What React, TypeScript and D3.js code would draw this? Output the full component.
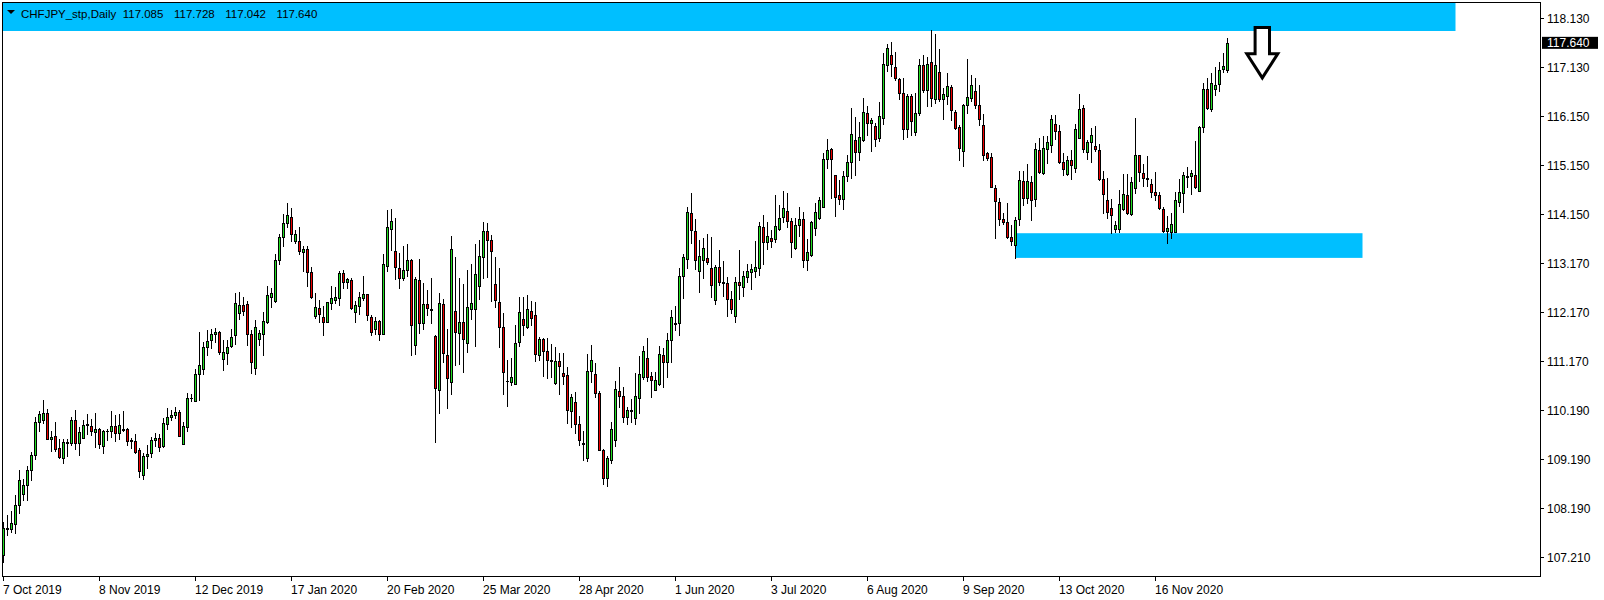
import React from "react";
import * as d3 from "d3";

const symbol = "CHFJPY_stp";
const timeframe = "Daily";

// daily OHLC, 7 Oct 2019 .. Dec 2020
const opens = [
  107.26,107.78,107.78,107.88,108.26,108.50,108.67,108.97,109.28,109.95,
  109.99,110.13,109.60,109.66,109.42,109.22,109.53,109.52,109.99,109.52,
  109.62,109.89,109.87,109.74,109.81,109.46,109.76,109.76,109.88,109.72,
  109.82,109.82,109.58,109.56,109.38,108.88,109.26,109.32,109.58,109.62,
  109.46,109.92,110.05,110.09,110.15,109.50,109.86,110.44,110.37,110.92,
  111.02,111.47,111.61,111.73,111.77,111.22,111.35,111.49,111.71,112.16,
  112.32,112.34,111.74,111.04,111.63,111.73,111.99,112.49,112.40,113.23,
  113.70,113.98,114.10,113.63,113.62,113.39,113.47,112.99,112.11,112.26,
  112.08,111.99,112.37,112.43,112.47,112.97,112.80,112.83,112.19,112.31,
  112.47,112.54,112.08,111.83,112.01,111.73,113.12,113.87,113.42,113.08,
  112.88,113.03,113.23,111.51,112.83,111.95,112.34,112.24,111.69,110.60,
  112.34,111.32,110.77,112.20,111.75,111.99,111.55,112.25,112.24,112.70,
  113.29,113.82,113.64,112.76,112.38,111.88,110.79,110.76,110.73,111.57,
  112.04,111.88,112.20,112.12,111.32,111.63,111.39,111.20,110.74,111.18,
  110.95,110.91,110.18,110.36,109.91,109.52,109.23,110.98,110.93,110.54,
  109.38,108.81,109.18,109.58,110.59,110.47,110.06,110.19,110.03,110.43,
  110.86,111.26,110.88,110.61,110.72,111.32,111.16,111.62,111.95,111.95,
  112.91,113.25,114.18,113.82,113.01,113.23,113.27,113.07,112.42,113.09,
  112.79,112.78,112.44,112.11,112.80,112.68,112.89,113.00,113.01,113.07,
  113.91,113.61,113.68,113.66,113.86,114.10,114.24,114.02,113.49,113.94,
  114.06,113.23,113.33,113.88,114.08,114.32,115.28,115.49,114.97,114.55,
  114.48,114.95,115.22,115.66,115.43,115.66,116.21,116.02,115.95,115.72,
  116.12,117.20,117.39,117.14,116.91,116.62,115.89,116.56,115.84,116.21,
  117.19,116.68,117.25,116.50,117.05,116.51,116.57,116.74,116.23,115.93,
  115.45,116.37,116.53,116.66,116.38,115.97,115.41,115.32,114.69,114.41,
  114.07,114.01,113.71,113.55,114.06,114.84,114.49,114.81,114.47,115.46,
  115.00,115.48,115.56,115.99,115.85,115.22,114.99,115.26,115.10,115.72,
  116.31,115.42,115.62,115.54,115.46,114.87,114.45,114.30,113.87,113.87,
  114.27,114.55,114.16,114.69,115.36,115.00,114.89,114.77,114.61,114.55,
  114.28,113.83,113.80,113.81,114.41,114.59,114.93,114.93,114.97,114.63,
  115.93,116.70,116.29,116.70,116.80,117.10,117.085,
];
const highs = [
  107.92,108.07,108.15,108.47,108.97,108.80,109.07,109.34,110.05,110.18,
  110.40,110.22,109.77,109.95,109.60,109.60,109.61,110.05,110.20,109.86,
  109.99,110.11,110.02,110.13,109.83,109.79,109.82,110.18,110.10,110.11,
  110.18,109.83,109.63,109.70,109.43,109.32,109.49,109.64,109.72,109.70,
  110.03,110.24,110.20,110.26,110.20,109.95,110.55,110.53,111.02,111.78,
  111.57,111.82,111.84,111.85,111.79,111.61,111.62,111.83,112.57,112.59,
  112.49,112.41,111.81,112.02,111.82,112.18,112.71,112.67,113.35,113.77,
  114.17,114.39,114.29,113.85,113.91,113.52,113.52,113.10,112.56,112.42,
  112.30,112.39,112.70,112.69,113.02,113.03,112.87,112.87,112.41,112.59,
  112.91,112.54,112.12,112.08,112.03,113.35,114.25,114.28,114.08,113.37,
  113.52,113.57,113.25,112.90,113.25,112.78,112.63,112.87,111.72,112.56,
  112.45,111.83,113.72,113.30,112.87,112.76,113.03,113.15,113.57,113.64,
  114.00,113.99,113.74,113.29,113.07,112.16,111.21,111.26,111.91,112.48,
  112.48,112.53,112.41,112.39,111.67,111.65,111.65,111.53,111.47,111.35,
  111.35,111.07,110.51,110.57,110.07,109.77,111.33,111.51,111.14,110.58,
  109.40,109.26,109.96,110.78,111.07,110.66,110.26,110.42,110.94,111.29,
  111.49,111.65,110.97,110.97,111.49,111.45,111.75,112.22,112.30,113.07,
  113.36,114.32,114.59,114.07,113.64,113.68,113.76,113.70,113.14,113.44,
  113.22,112.89,112.60,112.89,113.44,113.01,113.15,113.15,113.62,114.01,
  114.15,114.01,113.84,114.55,114.35,114.64,114.59,114.08,114.08,114.32,
  114.22,113.66,114.02,114.39,114.51,115.40,115.69,115.51,114.97,114.85,
  115.04,115.37,116.31,116.14,116.03,116.52,116.36,116.11,116.02,116.45,
  117.44,117.62,117.66,117.46,116.92,116.93,116.60,116.60,116.62,117.31,
  117.39,117.35,117.90,117.82,117.52,116.72,117.02,116.79,116.27,115.97,
  116.40,117.32,116.99,116.92,116.79,116.19,115.43,115.40,114.76,114.49,
  114.18,114.39,113.95,114.11,115.05,115.05,115.19,114.93,115.60,115.71,
  115.75,115.75,116.17,116.17,115.97,115.40,115.35,115.47,115.99,116.60,
  116.37,115.66,115.91,115.95,115.58,115.04,114.89,114.47,114.02,114.66,
  114.98,114.98,114.91,116.11,115.36,115.19,115.34,114.87,115.02,114.62,
  114.32,114.12,114.20,114.61,114.87,115.03,115.12,115.07,115.65,115.95,
  116.83,116.93,117.02,117.16,117.25,117.43,117.728,
];
const lows = [
  107.11,107.66,107.73,107.71,108.10,108.37,108.38,108.78,109.21,109.78,
  109.93,109.60,109.36,109.36,109.23,109.13,109.27,109.49,109.40,109.29,
  109.62,109.70,109.68,109.45,109.43,109.33,109.59,109.64,109.57,109.60,
  109.78,109.49,109.43,109.32,108.84,108.80,109.01,109.25,109.47,109.37,
  109.45,109.82,110.00,110.04,109.66,109.50,109.76,110.38,110.37,110.39,
  110.92,111.31,111.45,111.57,111.33,111.01,111.12,111.48,111.54,112.05,
  112.12,111.51,110.94,110.92,111.51,111.32,111.95,112.29,112.38,113.15,
  113.53,113.91,113.63,113.58,113.35,113.01,112.70,112.46,112.06,111.99,
  111.72,111.98,112.24,112.36,112.33,112.66,112.66,112.25,111.97,112.15,
  112.43,112.03,111.72,111.74,111.62,111.73,113.02,113.43,112.86,112.67,
  112.83,112.92,111.32,111.34,111.76,111.84,112.12,111.95,109.55,110.14,
  111.16,110.24,110.53,111.11,111.12,110.97,111.38,112.05,111.50,112.45,
  112.87,112.89,112.41,112.29,111.48,110.53,110.28,110.70,110.73,111.49,
  111.72,111.86,111.92,111.18,111.20,110.89,110.85,110.87,110.72,110.51,
  110.72,109.94,109.86,109.72,109.48,109.19,109.17,110.76,110.45,109.38,
  108.70,108.66,109.13,109.47,110.26,109.95,109.92,109.96,109.92,110.13,
  110.82,110.78,110.45,110.60,110.70,110.67,110.86,111.17,111.82,111.72,
  112.47,113.08,113.59,113.05,112.59,112.87,113.16,112.48,112.35,112.72,
  112.51,112.11,112.16,111.99,112.44,112.50,112.79,112.65,112.90,112.93,
  113.16,113.47,113.51,113.61,113.84,114.00,113.90,113.30,113.47,113.72,
  113.09,113.03,113.31,113.74,114.07,114.32,115.10,114.50,114.12,114.37,
  114.28,114.83,114.89,114.96,115.26,115.64,115.77,115.45,115.55,115.64,
  116.00,117.06,116.97,116.88,116.50,115.70,115.74,115.77,115.77,116.18,
  116.65,116.36,116.35,116.43,116.46,116.10,116.39,116.07,115.89,115.26,
  115.15,116.21,116.46,116.31,115.97,115.27,115.26,114.71,113.69,113.95,
  113.96,113.68,113.54,113.27,113.95,114.35,114.39,114.04,114.34,115.00,
  114.98,115.21,115.43,115.69,115.21,114.97,114.97,114.87,115.03,115.72,
  115.43,115.28,115.23,115.45,114.86,114.18,114.08,113.78,113.80,113.81,
  114.25,114.16,114.14,114.59,114.83,114.74,114.74,114.51,114.45,114.28,
  113.80,113.58,113.68,113.80,114.33,114.22,114.71,114.57,114.69,114.63,
  115.84,116.29,116.25,116.58,116.67,117.04,117.042,
];
const closes = [
  107.80,107.81,107.90,108.26,108.77,108.68,108.97,109.28,109.95,110.11,
  110.13,109.60,109.65,109.41,109.25,109.54,109.54,109.99,109.52,109.74,
  109.90,109.92,109.76,109.81,109.51,109.76,109.77,109.88,109.72,109.90,
  109.80,109.57,109.57,109.35,108.95,109.26,109.30,109.58,109.62,109.44,
  109.93,110.05,110.09,110.16,109.66,109.87,110.44,110.43,110.92,111.10,
  111.47,111.59,111.73,111.77,111.38,111.38,111.48,111.68,112.36,112.32,
  112.20,111.74,111.16,111.88,111.75,112.01,112.52,112.56,113.23,113.70,
  113.98,114.14,113.76,113.76,113.41,113.47,112.99,112.48,112.28,112.15,
  111.99,112.38,112.46,112.49,112.97,112.80,112.85,112.27,112.32,112.49,
  112.54,112.12,111.77,112.01,111.73,113.16,113.91,114.03,113.09,112.87,
  113.03,113.23,111.91,112.85,111.95,112.34,112.26,112.22,110.64,112.36,
  111.36,110.84,113.47,111.77,111.99,111.63,112.28,112.36,112.95,113.31,
  113.82,113.64,113.41,112.42,111.87,110.96,110.78,110.86,111.55,112.18,
  111.91,112.24,112.07,111.34,111.63,111.39,111.20,111.19,111.18,111.08,
  110.89,110.20,110.45,109.91,109.58,109.51,110.98,111.20,110.54,109.38,
  108.81,109.22,109.82,110.62,110.47,110.06,110.19,110.18,110.47,110.92,
  111.39,110.87,110.80,110.80,111.34,111.16,111.62,112.09,111.94,112.91,
  113.29,114.22,113.84,113.23,113.31,113.49,113.19,112.74,113.09,112.80,
  112.78,112.44,112.24,112.80,112.72,112.91,113.01,113.05,113.09,113.92,
  113.61,113.72,113.63,113.92,114.08,114.30,114.02,113.60,113.94,114.06,
  113.23,113.39,114.00,114.22,114.45,115.28,115.46,115.28,114.52,114.48,
  114.95,115.22,115.79,115.43,115.74,116.23,116.02,116.07,115.70,116.15,
  117.22,117.53,117.22,116.92,116.63,115.90,116.56,116.06,116.21,117.20,
  116.68,117.22,116.53,117.19,116.51,116.60,116.76,116.27,115.92,115.51,
  116.38,116.54,116.78,116.37,116.10,115.37,115.31,114.72,114.43,114.06,
  114.00,113.71,113.63,114.04,114.86,114.50,114.84,114.45,115.48,115.03,
  115.50,115.62,116.09,115.85,115.23,115.08,115.26,115.16,115.89,116.29,
  115.48,115.62,115.77,115.48,114.87,114.57,114.22,114.14,113.94,114.37,
  114.57,114.18,114.81,115.36,115.03,114.89,114.87,114.61,114.55,114.30,
  113.83,113.88,113.96,114.45,114.61,114.97,114.91,115.00,114.72,115.93,
  116.70,116.31,116.82,116.78,117.08,117.18,117.640,
];

const priceTicks = [118.13, 117.13, 116.15, 115.15, 114.15, 113.17, 112.17, 111.17, 110.19, 109.19, 108.19, 107.21];

const dateLabels = [
  "7 Oct 2019", "8 Nov 2019", "12 Dec 2019", "17 Jan 2020", "20 Feb 2020", "25 Mar 2020",
  "28 Apr 2020", "1 Jun 2020", "3 Jul 2020", "6 Aug 2020", "9 Sep 2020", "13 Oct 2020", "16 Nov 2020",
];
const dateBars = [0, 24, 48, 72, 96, 120, 144, 168, 192, 216, 240, 264, 288];

// rectangles drawn on the chart (bar index range + price range)
const zones = [
  { from: -2, to: 363, top: 118.6, bottom: 117.88 },
  { from: 253, to: 339.75, top: 113.78, bottom: 113.28 },
];
// hollow down arrow
const arrow = { bar: 314.7, top: 117.95, shoulder: 117.42, tip: 116.93 };

const GREEN = "#22dd22";
const RED = "#ee0000";
const ZONE = "#00bfff";
const FONT = "'Liberation Sans', Arial, sans-serif";

export default function App() {
  const W = 1604, H = 600;
  const left = 2, top = 2, right = 1540, bottom = 576;

  const x = d3.scaleLinear().domain([0, 384]).range([3.5, 3.5 + 4 * 384]);
  const y = d3.scaleLinear().domain([106.83, 118.468]).range([bottom, top]);
  const py = (p: number) => Math.round(y(p));

  const n = Math.min(opens.length, highs.length, lows.length, closes.length);
  const last = n - 1;
  const fmt = d3.format(".3f");
  const header = [opens[last], highs[last], lows[last], closes[last]].map(fmt);

  const ax = x(arrow.bar);
  const aTop = y(arrow.top), aSh = y(arrow.shoulder), aTip = y(arrow.tip);
  const stem = 7.2, head = 15.5;
  const arrowPath = `M${ax - stem},${aTop} H${ax + stem} V${aSh} H${ax + head} L${ax},${aTip} L${ax - head},${aSh} H${ax - stem} Z`;

  const lastY = y(closes[last]);

  return (
    <div style={{ position: "absolute", left: 0, top: 0 }}>
      <style>{"body{margin:0}"}</style>
      <svg width={W} height={H} style={{ display: "block", background: "#fff" }}>
        <defs>
          <clipPath id="plot">
            <rect x={left + 1} y={top + 1} width={right - left - 1} height={bottom - top - 1} />
          </clipPath>
        </defs>

        <g clipPath="url(#plot)">
          {zones.map((z, i) => (
            <rect key={i} x={x(z.from)} y={y(z.top)} width={x(z.to) - x(z.from)}
              height={y(z.bottom) - y(z.top)} fill={ZONE} />
          ))}

          <g shapeRendering="crispEdges">
            {closes.slice(0, n).map((c, i) => {
              const o = opens[i];
              const cx = x(i);
              const hi = py(highs[i]);
              const lo = py(lows[i]);
              const bt = py(Math.max(o, c));
              const bb = py(Math.min(o, c));
              return (
                <g key={i}>
                  <line x1={cx} x2={cx} y1={hi} y2={lo + 1} stroke="#000" strokeWidth={1} />
                  {bb - bt < 1 ? (
                    <rect x={cx - 1.5} y={bt} width={3} height={1} fill="#000" />
                  ) : (
                    <rect x={cx - 1} y={bt + 0.5} width={2} height={bb - bt}
                      fill={c >= o ? GREEN : RED} stroke="#000" strokeWidth={1} />
                  )}
                </g>
              );
            })}
          </g>

          <path d={arrowPath} fill="#fff" stroke="#000" strokeWidth={3} strokeLinejoin="miter" />
        </g>

        {/* header */}
        <path d="M7,10 H15 L11,14 Z" fill="#000" />
        <text x={21} y={17.5} fontFamily={FONT} fontSize={11.5} fill="#000">{`${symbol},${timeframe}`}</text>
        {header.map((t, i) => (
          <text key={i} x={122.7 + 51.3 * i} y={17.5} fontFamily={FONT} fontSize={11.5} fill="#000">{t}</text>
        ))}

        {/* frame */}
        <rect x={left + 0.5} y={top + 0.5} width={right - left} height={bottom - top}
          fill="none" stroke="#000" strokeWidth={1} shapeRendering="crispEdges" />

        {/* price axis */}
        <g fontFamily={FONT} fontSize={12} fill="#000">
          {priceTicks.map((p) => {
            const ty = Math.floor(y(p)) + 0.5;
            return (
              <g key={p}>
                <line x1={right} x2={right + 4} y1={ty} y2={ty} stroke="#000" shapeRendering="crispEdges" />
                <text x={right + 7} y={ty + 4.3}>{fmt(p)}</text>
              </g>
            );
          })}
          <rect x={right + 2} y={lastY - 6} width={56} height={12} fill="#000" />
          <text x={right + 7} y={lastY + 4.3} fill="#fff">{fmt(closes[last])}</text>
        </g>

        {/* time axis */}
        <g fontFamily={FONT} fontSize={12} fill="#000">
          {dateBars.map((b, i) => (
            <g key={b}>
              <line x1={x(b)} x2={x(b)} y1={bottom + 1} y2={bottom + 5} stroke="#000" shapeRendering="crispEdges" />
              <text x={x(b) - 0.5} y={594}>{dateLabels[i]}</text>
            </g>
          ))}
        </g>
      </svg>
    </div>
  );
}
